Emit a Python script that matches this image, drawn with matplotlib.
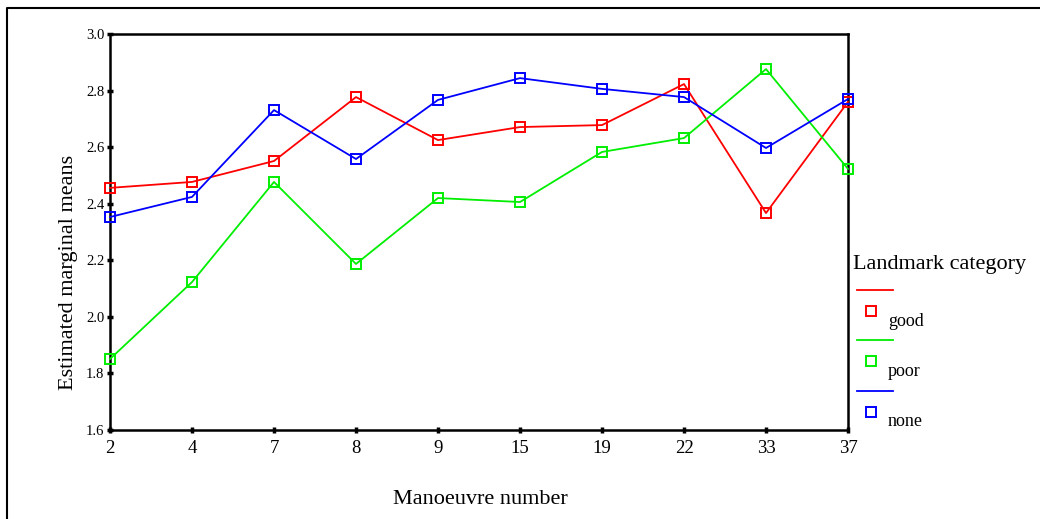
import matplotlib
matplotlib.use("Agg")
import matplotlib.pyplot as plt
from matplotlib.lines import Line2D

plt.rcParams["font.family"] = ["Liberation Serif", "DejaVu Serif"]

# ---------------- DATA ----------------
manoeuvres = ["2", "4", "7", "8", "9", "15", "19", "22", "33", "37"]
good = [2.456, 2.477, 2.551, 2.777, 2.625, 2.671, 2.678, 2.823, 2.367, 2.760]
poor = [1.851, 2.123, 2.477, 2.187, 2.420, 2.406, 2.583, 2.632, 2.876, 2.523]
none = [2.353, 2.424, 2.731, 2.558, 2.767, 2.844, 2.806, 2.777, 2.597, 2.770]
series_names = ["good", "poor", "none"]
y_ticks = [1.6, 1.8, 2.0, 2.2, 2.4, 2.6, 2.8, 3.0]

colors = ["#ff0000", "#00ee00", "#0000ff"]

W, H = 1040, 519
fig = plt.figure(figsize=(10.4, 5.19), dpi=100)
ax = fig.add_axes([110 / W, 89 / H, 738 / W, 396 / H])

xs = list(range(len(manoeuvres)))
for vals, c in zip([good, poor, none], colors):
    ax.plot(xs, vals, color=c, lw=1.3, marker="s", ms=7.5,
            mfc="none", mec=c, mew=1.4, clip_on=False, zorder=3)

ax.set_xlim(0, len(manoeuvres) - 1)
ax.set_ylim(1.6, 3.0)
ax.set_xticks(xs)
ax.set_xticklabels(manoeuvres, fontsize=13.5)
ax.set_yticks(y_ticks)
ax.set_yticklabels([f"{t:.1f}" for t in y_ticks], fontsize=10.5)
ax.tick_params(axis="both", direction="inout", length=4, width=2.5, color="black")
ax.tick_params(axis="x", pad=5)
ax.tick_params(axis="y", pad=2)
for sp in ax.spines.values():
    sp.set_linewidth(1.8)

# axis titles placed by hand
fig.text(68 / W, 1 - 272 / H, "Estimated marginal means", fontsize=16,
         rotation=90, ha="center", va="center")
fig.text(480 / W, 1 - 500 / H, "Manoeuvre number", fontsize=16,
         ha="center", va="center")

# ---------------- LEGEND (stacked: line, then marker + label) ----------------
fig.text(853 / W, 1 - 265 / H, "Landmark category", fontsize=16,
         ha="left", va="center")
line_ys = [290, 340, 391]
for name, c, ly in zip(series_names, colors, line_ys):
    fig.add_artist(Line2D([857 / W, 893 / W], [1 - ly / H, 1 - ly / H],
                          color=c, lw=1.3, transform=fig.transFigure))
    fig.add_artist(Line2D([871 / W], [1 - (ly + 21) / H], marker="s", ms=6.5,
                          mfc="none", mec=c, mew=1.4, lw=0,
                          transform=fig.transFigure))
    fig.text(888 / W, 1 - (ly + 31) / H, name, fontsize=13,
             ha="left", va="center")

# ---------------- OUTER FRAME (top and left edges) ----------------
fig.add_artist(Line2D([7 / W, 7 / W, 1.0], [0.0, 1 - 8 / H, 1 - 8 / H],
                      color="black", lw=1.5, transform=fig.transFigure))

fig.savefig("out.png", dpi=100)
